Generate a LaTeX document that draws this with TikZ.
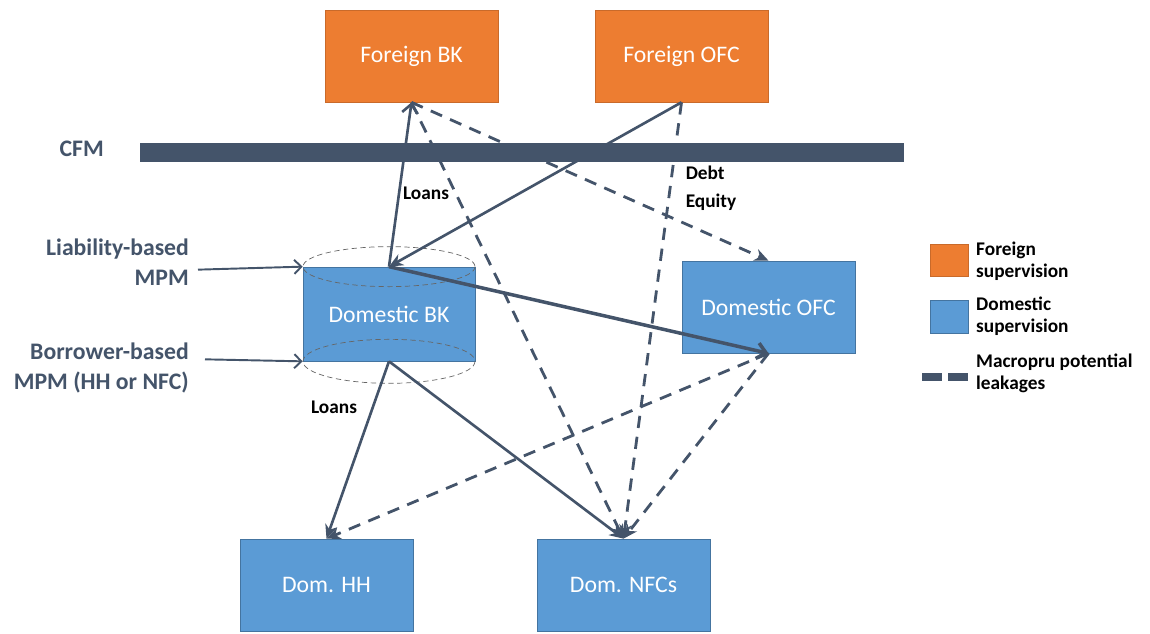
\documentclass[tikz,border=0pt]{standalone}
\usepackage{fontspec}
\setmainfont{Carlito}
\usetikzlibrary{arrows.meta,positioning,calc}
\definecolor{fgn}{HTML}{ED7D31}
\definecolor{dom}{HTML}{5B9BD5}
\definecolor{slate}{HTML}{44546A}

\begin{document}
\begin{tikzpicture}[
                x=0.02cm, y=-0.02cm,
                box/.style={rectangle,draw,minimum width=3.46cm,minimum height=1.84cm,text=white,font=\fontsize{13.5}{16}\selectfont},
                foreign/.style={box,fill=fgn,draw=fgn!85!black},
                domestic/.style={box,fill=dom,draw=dom!75!black},
                flow/.style={draw=slate,line width=1.5pt,-{Stealth[length=8pt,width=7pt]}},
                back/.style={flow,-{Straight Barb[length=5pt,width=9pt]}},
                leak/.style={flow,line width=1.6pt,dash pattern=on 7pt off 5pt},
                pointer/.style={draw=slate,line width=1.1pt,-{Straight Barb[length=4pt,width=8pt]}},
                tag/.style={font=\bfseries\fontsize{11}{16}\selectfont,align=left},
                side/.style={font=\bfseries\fontsize{13.5}{17}\selectfont,text=slate,align=right,anchor=east},
                key/.style={font=\bfseries\fontsize{11}{12.5}\selectfont,align=left,anchor=west}
            ]
                \useasboundingbox (0,0) rectangle (1150,634);
                \node[foreign]  (fbk)  at (411.5,56)  {Foreign BK};
                \node[foreign]  (fofc) at (681.5,56)  {Foreign OFC};
                \node[domestic,minimum width=3.44cm,minimum height=1.88cm] (dbk) at (389,314) {Domestic BK};
                \node[domestic] (dofc) at (768.5,307) {Domestic OFC};
                \node[domestic] (hh)   at (326.5,585) {Dom. HH};
                \node[domestic] (nfc)  at (623.5,585) {Dom. NFCs};
                \node[fill=slate,inner sep=0,minimum width=15.28cm,minimum height=0.38cm] (cfmbar) at (522,152.5) {};
                \node[side,font=\bfseries\fontsize{13.5}{16}\selectfont] (cfm) at (110,149) {CFM};
                \draw[gray!80!black,densely dashed,thin] (dbk.north) ellipse [x radius=86,y radius=20];
                \draw[gray!80!black,densely dashed,thin] (dbk.south) ellipse [x radius=86,y radius=22];
                \draw[back] (dbk.north) -- (fbk.south);
                \draw[flow] (fofc.south) -- (dbk.north);
                \draw[back,line width=2pt] (dbk.north) -- (dofc.south);
                \draw[flow] (dbk.south) -- (hh.north);
                \draw[flow] (dbk.south) -- (nfc.north);
                \draw[leak] (fbk.south) -- (dofc.north);
                \draw[leak] (fbk.south) -- (nfc.north);
                \draw[leak] (fofc.south) -- (nfc.north);
                \draw[leak] (dofc.south) -- (hh.north);
                \draw[leak] (dofc.south) -- (nfc.north);
                \node[tag] (loanup) at (426,193) {Loans};
                \node[tag] (debt)   at (711,188) {Debt\\Equity};
                \node[tag] (loandn) at (334,407) {Loans};
                \node[side] (lmpm) at (195,262) {Liability-based\\MPM};
                \node[side] (bmpm) at (195,368) {Borrower-based\\MPM (HH or NFC)};
                \draw[pointer] ($(lmpm.east |- dbk.north west)+(3,3)$) -- (dbk.north west);
                \draw[pointer] ($(bmpm.east |- dbk.south west)+(10,-2)$) -- (dbk.south west);
                \node[foreign,minimum width=0.76cm,minimum height=0.64cm] (kf) at (949,260) {};
                \node[key] (kft) at (970,261) {Foreign\\supervision};
                \node[domestic,minimum width=0.76cm,minimum height=0.66cm] (kd) at (949,316.5) {};
                \node[key] (kdt) at (970,316) {Domestic\\supervision};
                \draw[slate,line width=0.16cm,dash pattern=on 0.4cm off 0.12cm] (922,377) -- (968,377);
                \node[key] (klt) at (970,373) {Macropru potential\\leakages};
            \end{tikzpicture}
\end{document}
